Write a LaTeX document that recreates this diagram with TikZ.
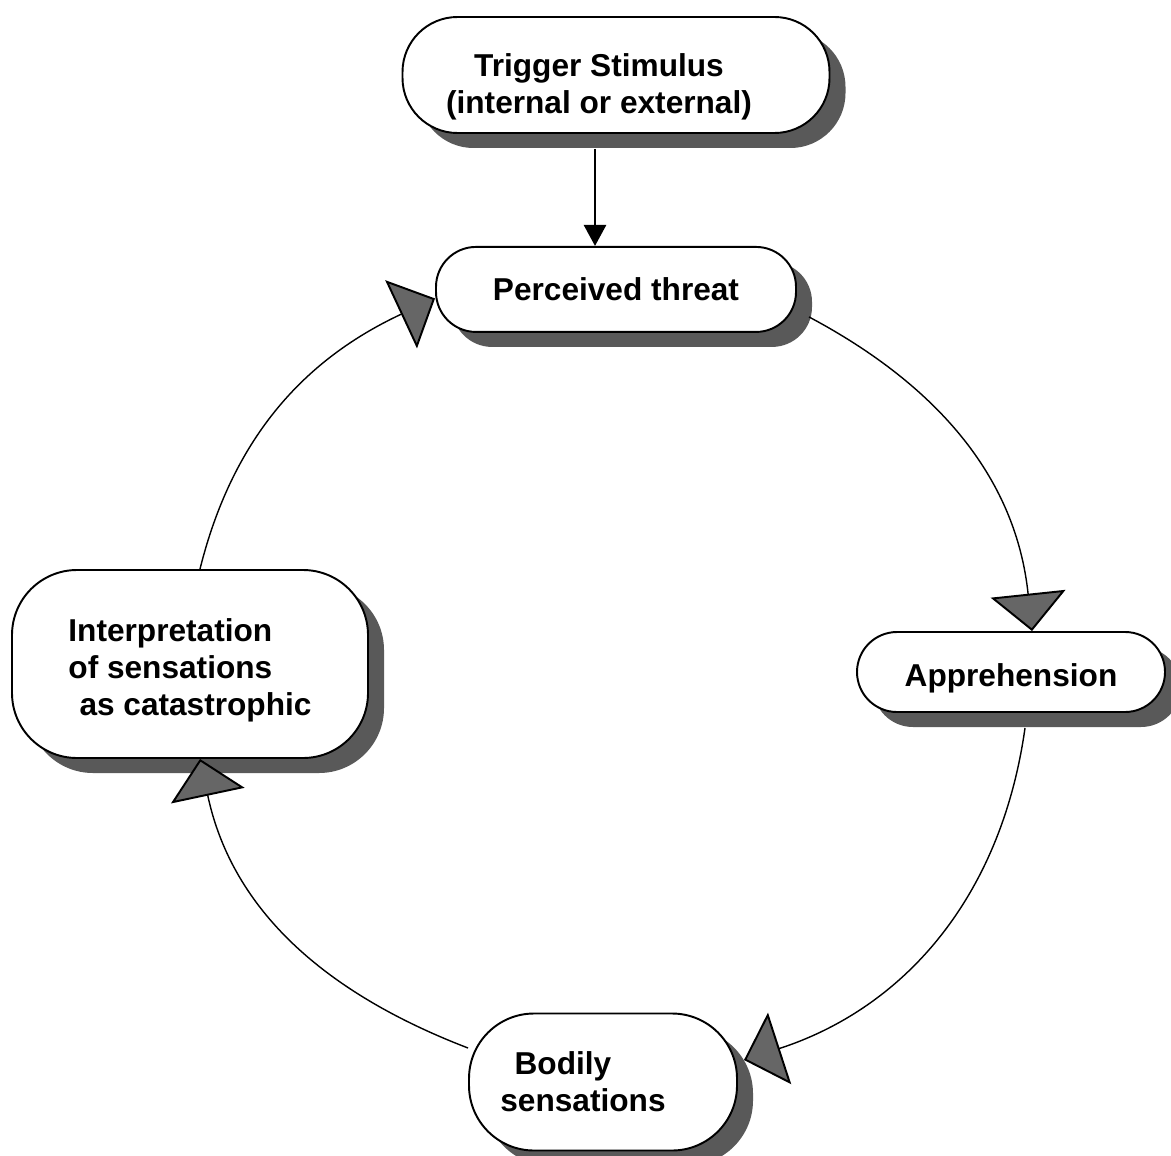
\documentclass[tikz,border=0pt]{standalone}
\usepackage{fontspec}
\setmainfont{Liberation Sans}
\usetikzlibrary{shapes,arrows.meta,positioning,shadows}

\begin{document}
\begin{tikzpicture}[
    node distance=2cm,
    stage/.style={rectangle, draw, line width=1.1pt, fill=white, align=center, font=\bfseries\fontsize{18}{21}\selectfont, drop shadow={shadow xshift=0.32cm, shadow yshift=-0.3cm, fill=black!65, opacity=1}},
    cyclearrow/.style={-{Triangle[length=0.75cm, width=1.5cm, fill=black!60, line width=1.1pt]}, line width=0.8pt},
    feed/.style={-{Triangle[length=0.42cm, width=0.44cm]}, line width=1.5pt}
]
\useasboundingbox (0,0) rectangle (23.42,-23.1);

% Trigger
\node[stage, minimum width=8.54cm, minimum height=2.32cm, rounded corners=1.1cm] (trigger) at (12.32,-1.5) {\rule{0pt}{27pt}Trigger Stimulus\hspace*{0.68cm}\\(internal or external)\hspace*{0.68cm}};

% Cycle stages
\node[stage, below=2.24cm of trigger, minimum width=7.2cm, minimum height=1.7cm, rounded corners=0.8cm] (threat) {Perceived threat};
\node[stage, minimum width=6.16cm, minimum height=1.6cm, rounded corners=0.8cm] (appr) at (20.22,-13.44) {\rule{0pt}{20pt}Apprehension};
\node[stage, minimum width=5.36cm, minimum height=2.74cm, rounded corners=1.3cm, align=left] (bodily) at (12.06,-21.64) {\hspace*{0.45em}Bodily\\sensations\hspace*{0.8cm}};
\node[stage, minimum width=7.12cm, minimum height=3.76cm, rounded corners=1.3cm, align=left] (interp) at (3.8,-13.28) {\rule{0pt}{20pt}Interpretation\\of sensations\\\hspace*{0.35em}as catastrophic};

% Trigger arrow
\draw[feed] ([xshift=-0.42cm,yshift=-0.3cm]trigger.south) -- ([xshift=-0.42cm]threat.north);

% Cycle arrows
\draw[cyclearrow] ([xshift=0.24cm,yshift=-0.55cm]threat.east) to[out=-28, in=96] ([xshift=0.42cm]appr.north);
\draw[cyclearrow] ([xshift=0.28cm,yshift=-0.3cm]appr.south) to[out=-98, in=18] ([xshift=0.12cm,yshift=0.44cm]bodily.east);
\draw[cyclearrow] ([yshift=0.68cm]bodily.west) to[out=159, in=-78] ([xshift=0.2cm]interp.south);
\draw[cyclearrow] ([xshift=0.2cm]interp.north) to[out=76, in=205] ([yshift=-0.18cm]threat.west);

\end{tikzpicture}
\end{document}
